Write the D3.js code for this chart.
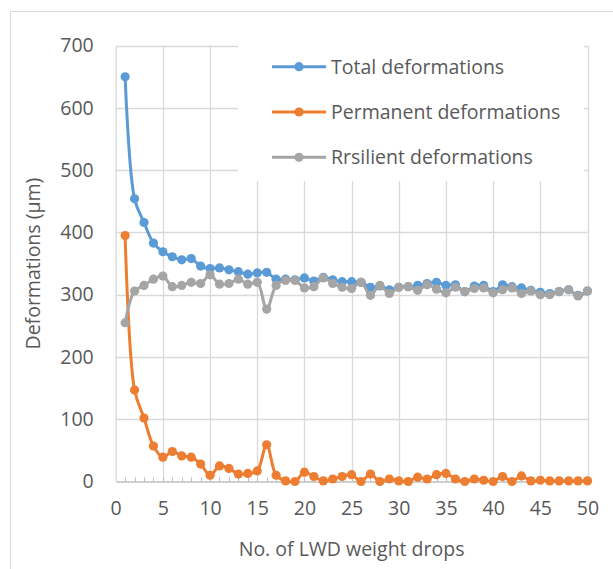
<!DOCTYPE html>
<html><head><meta charset="utf-8">
<script src="https://cdn.jsdelivr.net/npm/d3@7"></script>
<style>
html,body{margin:0;padding:0;background:#fff;}
svg{display:block;font-family:"Open Sans",sans-serif;}
</style></head>
<body><svg id="c" width="613" height="569"></svg>
<script>
const drops = [1,2,3,4,5,6,7,8,9,10,11,12,13,14,15,16,17,18,19,20,21,22,23,24,25,26,27,28,29,30,31,32,33,34,35,36,37,38,39,40,41,42,43,44,45,46,47,48,49,50];
const totalDef = [650,454,416,383,369,361,356,358,346,342,343,340,337,333,335,336,325,325,324,327,322,328,324,321,321,320,312,314,308,312,313,315,318,320,315,316,305,314,315,305,316,313,311,307,304,302,305,308,299,306];
const permanentDef = [395,147,102,57,39,48,41,39,28,10,25,21,12,13,17,59,10,1,0,15,8,1,4,8,11,0,12,0,4,1,0,7,4,11,13,4,0,4,2,0,8,0,9,1,2,1,1,1,1,1];
const resilientDef = [255,306,315,325,330,313,315,320,318,332,317,318,325,317,320,277,315,323,323,311,313,327,318,312,310,320,299,315,302,312,313,307,316,309,303,312,305,310,311,303,308,311,302,306,300,300,305,308,298,306];
const seriesNames = ["Total deformations","Permanent deformations","Rrsilient deformations"];
const seriesColors = ["#5B9BD5","#ED7D31","#A5A5A5"];
const xTicks = [0,5,10,15,20,25,30,35,40,45,50];
const yTicks = [0,100,200,300,400,500,600,700];
const xTitle = "No. of LWD weight drops";
const yTitle = "Deformations (µm)";

const svg = d3.select("#c");
const L = 115.7, R = 587.5, T = 45.7, B = 481.5;
const x = d3.scaleLinear().domain([0,50]).range([L,R]);
const y = d3.scaleLinear().domain([0,700]).range([B,T]);
const txt = "#595959", grid = "#D9D9D9", axisC = "#BFBFBF";
const fs = 19.5;

// outer chart border
svg.append("rect").attr("x",10.5).attr("y",11.5).attr("width",640).attr("height",600)
  .attr("fill","none").attr("stroke",grid).attr("stroke-width",1);

// gridlines
svg.append("g").selectAll("line").data(yTicks.filter(d=>d>0)).join("line")
  .attr("x1",L).attr("x2",R).attr("y1",d=>Math.round(y(d))+0.5).attr("y2",d=>Math.round(y(d))+0.5)
  .attr("stroke",grid).attr("stroke-width",1.3);
svg.append("g").selectAll("line").data(xTicks.filter(d=>d>0)).join("line")
  .attr("y1",T).attr("y2",B).attr("x1",d=>Math.round(x(d))+0.5).attr("x2",d=>Math.round(x(d))+0.5)
  .attr("stroke",grid).attr("stroke-width",1.3);

// axes
const xAxis = d3.axisBottom(x).tickValues(xTicks).tickSize(0).tickPadding(20);
const gx = svg.append("g").attr("transform",`translate(0,${B})`).call(xAxis);
gx.select(".domain").attr("stroke",axisC).attr("stroke-width",1.3);
gx.selectAll("text").attr("fill",txt).style("font-size",fs+"px").style("font-family","Open Sans");
// minor ticks (inside)
svg.append("g").selectAll("line").data(drops).join("line")
  .attr("x1",d=>Math.round(x(d))+0.5).attr("x2",d=>Math.round(x(d))+0.5)
  .attr("y1",B).attr("y2",B-4).attr("stroke",axisC).attr("stroke-width",1);

const yAxis = d3.axisLeft(y).tickValues(yTicks).tickSize(0).tickPadding(22);
const gy = svg.append("g").attr("transform",`translate(${L},0)`).call(yAxis);
gy.select(".domain").attr("stroke",grid).attr("stroke-width",1.3);
gy.selectAll("text").attr("fill",txt).style("font-size",fs+"px").style("font-family","Open Sans");

// axis titles
svg.append("text").attr("x",(L+R)/2).attr("y",556).attr("text-anchor","middle")
  .attr("fill",txt).style("font-size",fs+"px").text(xTitle);
svg.append("text").attr("transform",`translate(40,${(T+B)/2}) rotate(-90)`).attr("text-anchor","middle")
  .attr("fill",txt).style("font-size",fs+"px").text(yTitle);

// legend background
svg.append("rect").attr("x",238).attr("y",40).attr("width",346).attr("height",141).attr("fill","#fff");

// series
const allSeries = [totalDef, permanentDef, resilientDef];
const line = d3.line().x((d,i)=>x(drops[i])).y(d=>y(d)).curve(d3.curveCatmullRom.alpha(0.5));
allSeries.forEach((vals,k)=>{
  const g = svg.append("g");
  g.append("path").datum(vals).attr("d",line).attr("fill","none")
    .attr("stroke",seriesColors[k]).attr("stroke-width",3).attr("stroke-linejoin","round");
  g.selectAll("circle").data(vals).join("circle")
    .attr("cx",(d,i)=>x(drops[i])).attr("cy",d=>y(d)).attr("r",4.6).attr("fill",seriesColors[k]);
});

// legend
const lg = svg.append("g");
seriesNames.forEach((n,k)=>{
  const cy = 66.7 + k*45.3;
  lg.append("line").attr("x1",272).attr("x2",326).attr("y1",cy).attr("y2",cy)
    .attr("stroke",seriesColors[k]).attr("stroke-width",3);
  lg.append("circle").attr("cx",299).attr("cy",cy).attr("r",4.6).attr("fill",seriesColors[k]);
  lg.append("text").attr("x",331).attr("y",cy).attr("dy","0.35em").attr("fill",txt)
    .style("font-size",fs+"px").text(n);
});
</script></body></html>
